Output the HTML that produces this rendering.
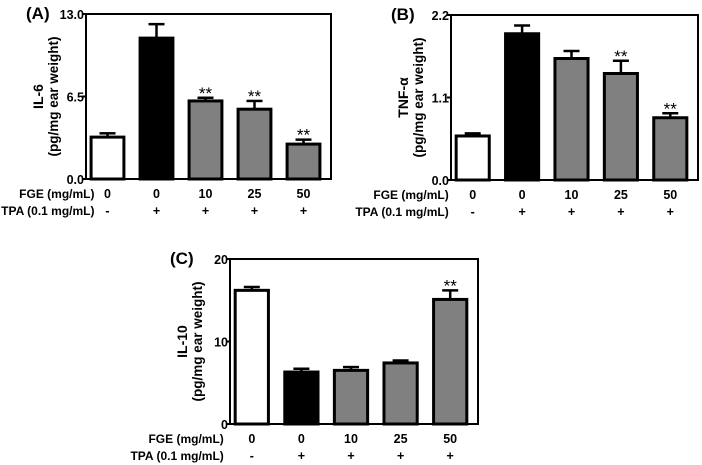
<!DOCTYPE html>
<html><head><meta charset="utf-8"><style>
html,body{margin:0;padding:0;background:#fff;width:702px;height:465px;overflow:hidden}
svg{display:block;font-family:"Liberation Sans",Arial,sans-serif;font-weight:bold}
</style></head><body>
<svg id="chart" width="702" height="465" viewBox="0 0 702 465" xmlns="http://www.w3.org/2000/svg"></svg>
<script>
const categoriesFGE = ["0","0","10","25","50"];
const categoriesTPA = ["-","+","+","+","+"];
const fills = ["#ffffff","#000000","#808080","#808080","#808080"];
const il6Values = [3.3, 11.1, 6.15, 5.5, 2.75];
const il6Errors = [0.3, 1.1, 0.25, 0.65, 0.35];
const il6Sig = ["", "", "**", "**", "**"];
const il6Ticks = ["0.0","6.5","13.0"];
const tnfValues = [0.587, 1.95, 1.62, 1.42, 0.83];
const tnfErrors = [0.035, 0.11, 0.1, 0.17, 0.06];
const tnfSig = ["", "", "", "**", "**"];
const tnfTicks = ["0.0","1.1","2.2"];
const il10Values = [16.2, 6.3, 6.5, 7.4, 15.1];
const il10Errors = [0.4, 0.4, 0.4, 0.3, 1.1];
const il10Sig = ["", "", "", "", "**"];
const il10Ticks = ["0","10","20"];

const NS = "http://www.w3.org/2000/svg";
const svg = document.getElementById("chart");
function mk(tag, attrs, parent, text){
  const e = document.createElementNS(NS, tag);
  for (const k in attrs) e.setAttribute(k, attrs[k]);
  if (text !== undefined) e.textContent = text;
  (parent||svg).appendChild(e);
  return e;
}
function panel(key, letter, x0, y0, x1, y1, ymax, vals, errs, sig, ticks, title, rowGap){
  const g = mk("g", {});
  
  
  const yS = v => y1 - v / ymax * (y1 - y0);
  const step = (x1 - x0) / 5;
  const bw = step * 0.67;
  const xC = i => x0 + step * (i + 0.5) - 3;
  vals.forEach((v, i) => {
    const xc = xC(i), yt = yS(v), ye = yS(v + errs[i]);
    const eb = mk("line", {x1:xc, x2:xc, y1:yt, y2:ye, stroke:"#000", "stroke-width":2.5}, g);
    
    
    const cap = mk("line", {x1:xc - 8, x2:xc + 8, y1:ye, y2:ye, stroke:"#000", "stroke-width":2.5}, g);
    
    
    const r = mk("rect", {x:xc - bw/2, y:yt, width:bw, height:y1 - yt, fill:fills[i], stroke:"#000", "stroke-width":3}, g);
    
    
    if (sig[i]) {
      const s = mk("text", {x:xc, y:ye + 1, "text-anchor":"middle", "font-size":17, "font-weight":"normal"}, g, sig[i]);
      
      
    }
    const f = mk("text", {x:xc, y:y1 + 19, "text-anchor":"middle", "font-size":12.5}, g, categoriesFGE[i]);
    
    
    const t = mk("text", {x:xc, y:y1 + 36, "text-anchor":"middle", "font-size":12.5}, g, categoriesTPA[i]);
    
    
  });
  const fr = mk("rect", {x:x0, y:y0, width:x1 - x0, height:y1 - y0, fill:"none", stroke:"#000", "stroke-width":2}, g);
  
  
  ticks.forEach((t, i) => {
    const y = y1 - (y1 - y0) * i / (ticks.length - 1);
    mk("line", {x1:x0 - 4, x2:x0, y1:y, y2:y, stroke:"#000", "stroke-width":2}, g);
    const tl = mk("text", {x:x0 - 2, y:y + 5, "text-anchor":"end", "font-size":12.5}, g, t);
    
    
  });
  const lx = xC(0) - rowGap;
  const fl = mk("text", {x:lx, y:y1 + 19, "text-anchor":"end", "font-size":12}, g, "FGE (mg/mL)");
  
  
  const tl = mk("text", {x:lx, y:y1 + 36, "text-anchor":"end", "font-size":12}, g, "TPA (0.1 mg/mL)");
  
  
  const cy = (y0 + y1) / 2;
  const yt1 = mk("text", {x:0, y:0, "text-anchor":"middle", "font-size":14, transform:`translate(${x0-43},${cy}) rotate(-90)`}, g, title);
  
  
  const yt2 = mk("text", {x:0, y:0, "text-anchor":"middle", "font-size":13.5, transform:`translate(${x0-28},${cy}) rotate(-90)`}, g, "(pg/mg ear weight)");
  
  
  const pl = mk("text", {x:x0 - 60, y:y0 + 5, "font-size":17}, g, letter);
  
  
}
panel("il6", "(A)", 86, 14, 331, 179, 13, il6Values, il6Errors, il6Sig, il6Ticks, "IL-6", 13);
panel("tnf", "(B)", 451, 15, 698, 180, 2.2, tnfValues, tnfErrors, tnfSig, tnfTicks, "TNF-α", 24);
panel("il10", "(C)", 230, 259, 478, 424, 20, il10Values, il10Errors, il10Sig, il10Ticks, "IL-10", 28);
</script>
</body></html>
